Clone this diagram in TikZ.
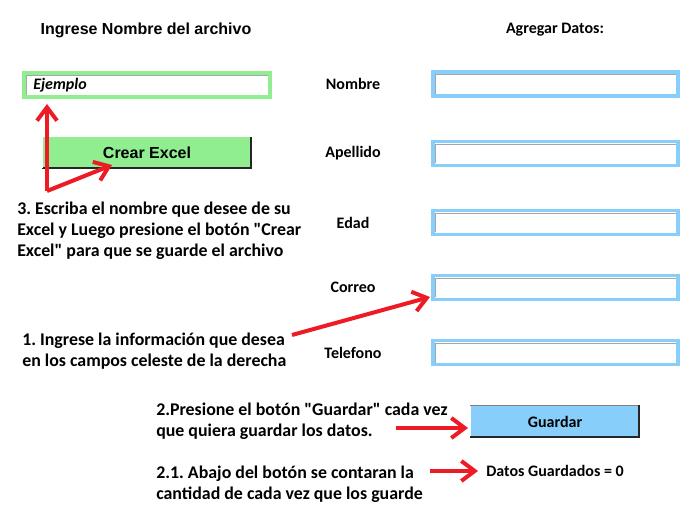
\documentclass[tikz,border=0pt]{standalone}
\usepackage{fontspec}
\newfontfamily\carl{Carlito}
\newfontfamily\arialf{Liberation Sans}
\usetikzlibrary{arrows.meta}
\definecolor{lgreen}{HTML}{90EE90}
\definecolor{lblue}{HTML}{87CEFA}
\definecolor{pred}{HTML}{ED1C24}
\frenchspacing
\tikzset{
  px/.style={x=0.75pt,y=-0.75pt},
  instr/.style={font=\carl\fontsize{13.4pt}{15.8pt}\selectfont\bfseries,align=left,anchor=west,inner sep=0pt},
  lbl/.style={font=\carl\fontsize{12pt}{14pt}\selectfont\bfseries,inner sep=0pt},
  arial/.style={font=\arialf\fontsize{12pt}{14pt}\selectfont\bfseries,inner sep=0pt},
  redarrow/.style={draw=pred,line width=3pt,-{Straight Barb[length=10pt,width=15pt,line width=3pt]}},
  field/.style={draw=lblue,line width=2.4pt,fill=white},
  sunken/.style={draw=gray!70,line width=0.8pt},
}
\begin{document}
\begin{tikzpicture}[px]
\useasboundingbox (0,0) rectangle (694,517);
\fill[white] (0,0) rectangle (694,517);

% heading
\node[arial] (head) at (146,30) {Ingrese Nombre del archivo};

% Ejemplo box
\draw[draw=lgreen,line width=2.4pt,fill=white] (24,73) rectangle (270,97);
\draw[sunken] (26.8,95) -- (26.8,75.8) -- (268,75.8);
\node[lbl,anchor=west,font=\carl\fontsize{12pt}{14pt}\selectfont\bfseries\itshape] (ej) at (33,85) {Ejemplo};

% Crear Excel button
\fill[lgreen] (42,137) rectangle (251,169);
\draw[black!85,line width=1.5pt] (42,168.5) -- (250.5,168.5) -- (250.5,137);
\draw[white,line width=0.8pt] (42.5,168) -- (42.5,137.5);
\node[arial] (crear) at (147,153) {Crear Excel};
\coordinate (cbtn) at (112,165);
\coordinate (ejb) at (47,104);
\coordinate (corner) at (47,191);
\draw[redarrow] (corner) -- (ejb);
\draw[redarrow] (corner) -- (cbtn);

% instruction 3
\node[instr] (i3) at (17,231) {3. Escriba el nombre que desee de su\\Excel y Luego presione el botón "Crear\\Excel" para que se guarde el archivo};

% Agregar Datos
\node[lbl] (agr) at (555,30) {Agregar Datos:};

% labels and fields
\foreach \name/\txt/\y in {nom/Nombre/84, ape/Apellido/153.5, eda/Edad/222.5, cor/Correo/287.5, tel/Telefono/352.5}{
  \node[lbl] (l\name) at (353,\y) {\txt};
  \draw[field] (433,\y-12) rectangle (678,\y+12);
  \draw[sunken] (435.8,\y+10) -- (435.8,\y-9.2) -- (676,\y-9.2);
  \coordinate (f\name) at (433,\y+12);
}

% instruction 1
\node[instr] (i1) at (22,351) {1. Ingrese la información que desea\\en los campos celeste de la derecha};
\coordinate (a1s) at (292,335);
\draw[redarrow] (a1s) -- (430,297);

% Guardar button
\fill[lblue] (470,405) rectangle (639,437);
\draw[black!85,line width=1.5pt] (470,436.5) -- (638.5,436.5) -- (638.5,405);
\draw[gray,line width=0.6pt] (470,405.3) -- (638,405.3);
\draw[white,line width=0.8pt] (470.5,436) -- (470.5,405.5);
\node[lbl] (guard) at (555,422) {Guardar};

% instruction 2
\node[instr] (i2) at (156,421) {2.Presione el botón "Guardar" cada vez\\que quiera guardar los datos.};
\coordinate (a2s) at (396,428);
\draw[redarrow] (a2s) -- (468,428);

% instruction 2.1
\node[instr] (i21) at (156,484) {2.1. Abajo del botón se contaran la\\cantidad de cada vez que los guarde};
\node[lbl] (datos) at (555,471) {Datos Guardados = 0};
\coordinate (a3s) at (430,471);
\draw[redarrow] (a3s) -- (478,471);
\end{tikzpicture}
\end{document}
